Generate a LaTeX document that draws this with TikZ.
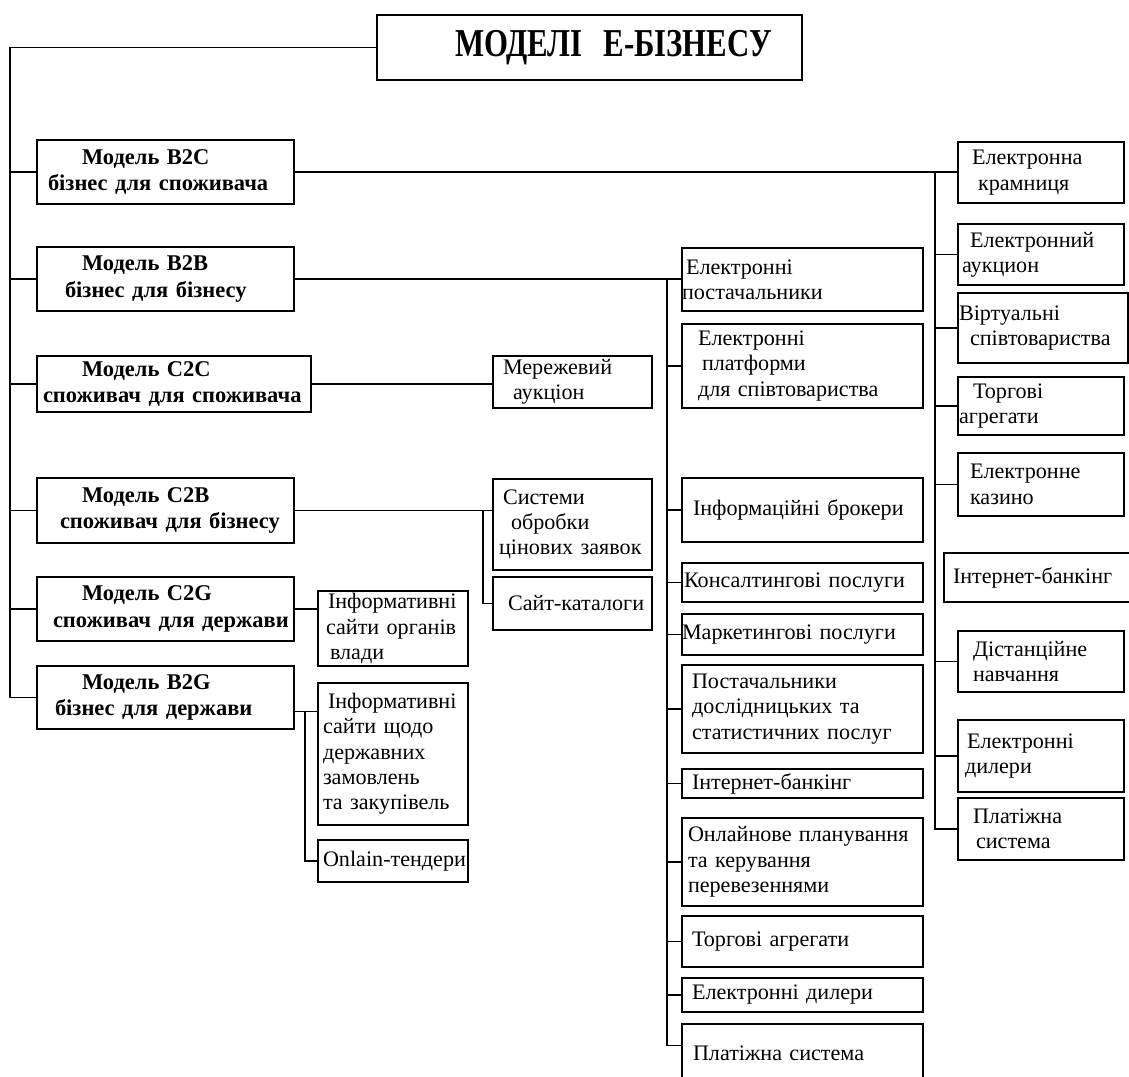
\documentclass[tikz,border=0pt]{standalone}
\usepackage{graphicx}
\usepackage{fontspec}
\setmainfont{Liberation Serif}
\newdimen\pxu \pxu=0.02cm
\newcommand\ind[1]{\hspace*{#1\pxu}}
\tikzset{
  box/.style={draw, line width=0.85pt, inner xsep=0pt, inner ysep=0pt, align=left,
    font=\fontsize{12.6}{14.4}\selectfont,
    execute at begin node={\hyphenpenalty=10000\exhyphenpenalty=10000}},
  bbox/.style={box, font=\fontsize{12.8}{15}\selectfont\bfseries},
  tbox/.style={box, line width=1pt, font=\fontsize{22.5}{26}\selectfont\bfseries},
  conn/.style={line width=0.85pt},
}
\newcommand\mkbox[7][box]{%
  \pgfmathsetlengthmacro\bw{(#5-#3)*\pxu}%
  \pgfmathsetlengthmacro\bh{(#6-#4)*\pxu}%
  \node[#1, minimum width=\bw, minimum height=\bh, text width=\bw] (#2) at ({(#3+#5)/2},{(#4+#6)/2}) {#7};}
\begin{document}
\begin{tikzpicture}[x=0.02cm, y=-0.02cm]
\clip (0,0) rectangle (1129,1077);
\fill[white] (0,0) rectangle (1129,1077);
% title
\mkbox[tbox]{title}{377}{15}{802}{80}{\ind{78}\scalebox{0.78}[1]{МОДЕЛІ\ \ Е-БІЗНЕСУ}}
% left column
\mkbox[bbox]{b2c}{37}{140}{294}{204}{\ind{45}Модель B2C\\\ind{11}бізнес для споживача}
\mkbox[bbox]{b2b}{37}{247}{294}{311}{\ind{45}Модель B2B\\\ind{28}бізнес для бізнесу}
\mkbox[bbox]{c2c}{37}{356}{311}{412}{\ind{45}Модель C2C\\\ind{6}споживач для споживача}
\mkbox[bbox]{c2b}{37}{478}{294}{543}{\ind{45}Модель C2B\\\ind{23}споживач для бізнесу}
\mkbox[bbox]{c2g}{37}{577}{294}{641}{\ind{45}Модель C2G\\\ind{16}споживач для держави}
\mkbox[bbox]{b2g}{37}{666}{294}{729}{\ind{45}Модель B2G\\\ind{18}бізнес для держави}
% lower-left branches
\mkbox{ma}{493}{356}{652}{408}{\ind{10}Мережевий\\\ind{20}аукціон}
\mkbox{sys}{493}{479}{652}{570}{\ind{10}Системи\\\ind{18}обробки\\\ind{6}цінових заявок}
\mkbox{sk}{493}{577}{652}{630}{\ind{15}Сайт-каталоги}
\mkbox{iv}{318}{591}{468}{666}{\ind{10}Інформативні\\\ind{8}сайти органів\\\ind{12}влади}
\mkbox{is}{318}{683}{468}{825}{\ind{10}Інформативні\\\ind{5}сайти щодо\\\ind{5}державних\\\ind{5}замовлень\\\ind{5}та закупівель}
\mkbox{ot}{318}{840}{468}{882}{\ind{5}Onlain-тендери}
% middle column
\mkbox{ep}{682}{248}{923}{311}{\ind{4}Електронні\\постачальники}
\mkbox{epl}{682}{324}{923}{408}{\ind{16}Електронні\\\ind{20}платформи\\\ind{16}для співтовариства}
\mkbox{ib}{682}{478}{923}{542}{\ind{11}Інформаційні брокери\\[6pt]}
\mkbox{kp}{682}{563}{923}{602}{\ind{2}Консалтингові послуги}
\mkbox{mp}{682}{614}{923}{655}{Маркетингові послуги}
\mkbox{pd}{682}{665}{923}{753}{\ind{10}Постачальники\\\ind{10}дослідницьких та\\\ind{10}статистичних послуг}
\mkbox{ibm}{682}{769}{923}{798}{\ind{10}Інтернет-банкінг}
\mkbox{op}{682}{818}{923}{906}{\ind{6}Онлайнове планування\\\ind{6}та керування\\\ind{6}перевезеннями}
\mkbox{ta}{682}{916}{923}{967}{\ind{10}Торгові агрегати}
\mkbox{ed}{682}{978}{923}{1012}{\ind{10}Електронні дилери}
\mkbox{ps}{682}{1024}{923}{1082}{\ind{11}Платіжна система}
% right column
\mkbox{ek}{958}{142}{1124}{203}{\ind{14}Електронна\\\ind{20}крамниця}
\mkbox{ea}{958}{224}{1124}{285}{\ind{12}Електронний\\\ind{4}аукцион}
\mkbox{vs}{958}{293}{1128}{363}{\ind{1}Віртуальні\\\ind{12}співтовариства}
\mkbox{tag}{958}{377}{1124}{435}{\ind{15}Торгові\\\ind{1}агрегати}
\mkbox{ekz}{958}{453}{1124}{516}{\ind{12}Електронне\\\ind{12}казино}
\mkbox{ibr}{944}{553}{1135}{602}{\ind{9}Інтернет-банкінг}
\mkbox{dn}{958}{631}{1124}{692}{\ind{15}Дістанційне\\\ind{15}навчання}
\mkbox{edl}{958}{720}{1124}{792}{\ind{9}Електронні\\\ind{7}дилери}
\mkbox{psr}{958}{798}{1124}{860}{\ind{15}Платіжна\\\ind{18}система}
% trunk coordinates
\coordinate (lt) at (10,0);
\coordinate (rt) at (935,0);
\coordinate (mtk) at (667,0);
\coordinate (t2) at (483,0);
\coordinate (t3) at (305,0);
% main trunk
\draw[conn] (title.west) -- (title.west -| lt) -- (b2g.west -| lt) -- (b2g.west);
\foreach \n in {b2c,b2b,c2c,c2b,c2g} \draw[conn] (\n.west -| lt) -- (\n.west);
% B2C -> right column
\draw[conn] (b2c.east) -- (b2c.east -| ek.west);
\draw[conn] (b2c.east -| rt) |- (psr.west);
\foreach \n in {ea,vs,tag,ekz,dn,edl} \draw[conn] (\n.west -| rt) -- (\n.west);
% B2B -> middle column
\draw[conn] (b2b.east) -- (b2b.east -| ep.west);
\draw[conn] (b2b.east -| mtk) |- ([yshift=-0.44cm]ps.north west);
\foreach \n in {epl,ib,kp,mp,pd,ibm,op,ta,ed} \draw[conn] (\n.west -| mtk) -- (\n.west);
% C2C
\draw[conn] (c2c.east) -- (c2c.east -| ma.west);
% C2B
\draw[conn] (c2b.east) -- (c2b.east -| sys.west);
\draw[conn] (c2b.east -| t2) |- (sk.west);
% C2G
\draw[conn] (c2g.east) -- (c2g.east -| iv.west);
% B2G
\draw[conn] ([yshift=-0.28cm]b2g.east) -- ([yshift=-0.28cm]b2g.east -| is.west);
\draw[conn] ([yshift=-0.28cm]b2g.east -| t3) |- (ot.west);
\end{tikzpicture}
\end{document}
